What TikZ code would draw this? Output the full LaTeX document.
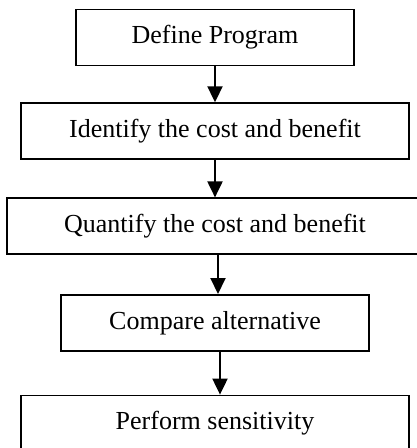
\documentclass[tikz,border=0pt]{standalone}
\usepackage{fontspec}
\setmainfont{Liberation Serif}
\usetikzlibrary{positioning,arrows.meta}
\tikzset{
  stage/.style = {draw=black, line width=1.6pt, minimum height=56pt,
                  inner sep=0pt, font=\fontsize{26}{30}\selectfont},
  flow/.style  = {-{Triangle[length=16pt,width=15pt]}, line width=2pt},
}
\begin{document}
\begin{tikzpicture}[x=1pt,y=1pt]
  \useasboundingbox (0,0) rectangle (417,-448);

  %% ---------------- the five stages, top to bottom ----------------
  \node[stage, minimum width=278pt] (def) at (215,-37.5) {Define Program};
  \node[stage, minimum width=388pt] (ident) [below=36pt of def]
        {Identify the cost and benefit};
  \node[stage, minimum width=416pt] (quant) [below=37.5pt of ident]
        {Quantify the cost and benefit};
  \node[stage, minimum width=308pt] (comp) [below=39pt of quant]
        {Compare alternative};
  \node[stage, minimum width=388pt] (sens) [below=43pt of comp]
        {Perform sensitivity};

  %% ---------------- arrows between stages ----------------
  \draw[flow] (def) -- (ident);
  \draw[flow] (ident) -- (quant);
  \draw[flow] ([xshift=3pt]quant.south) -- ([xshift=3pt]comp.north);
  \draw[flow] ([xshift=5pt]comp.south) -- ([xshift=5pt]sens.north);
\end{tikzpicture}
\end{document}
